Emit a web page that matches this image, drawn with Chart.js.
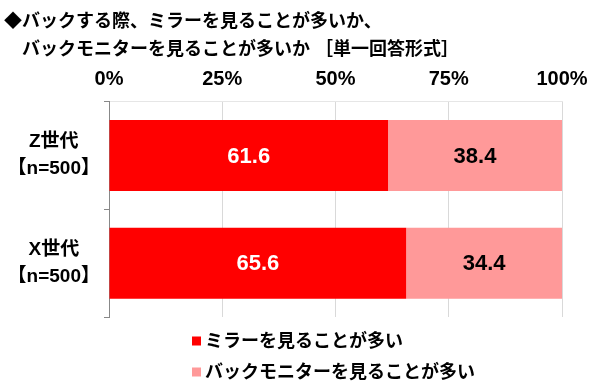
<!DOCTYPE html>
<html>
<head>
<meta charset="utf-8">
<script src="https://cdn.jsdelivr.net/npm/chart.js@4"></script>
<style>
  body { margin: 0; background: #fff; }
  #wrap { width: 600px; height: 388px; }
</style>
</head>
<body>
<div id="wrap"><canvas id="chart" width="600" height="388"></canvas></div>
<script>
// chart data
const titleLines = ['◆バックする際、ミラーを見ることが多いか、', '　バックモニターを見ることが多いか ［単一回答形式］'];
const categories = [['Z世代', '【n=500】'], ['X世代', '【n=500】']];
const seriesNames = ['ミラーを見ることが多い', 'バックモニターを見ることが多い'];
const mirrorValues = [61.6, 65.6];
const monitorValues = [38.4, 34.4];
const xTicks = [0, 25, 50, 75, 100];

const FONT = "'Liberation Sans', 'Noto Sans CJK JP', sans-serif";

// value labels inside the bars
const valueLabels = {
    id: 'valueLabels',
    afterDatasetsDraw(chart) {
        const ctx = chart.ctx;
        ctx.save();
        ctx.font = 'bold 22px ' + FONT;
        ctx.textAlign = 'center';
        ctx.textBaseline = 'middle';
        chart.data.datasets.forEach((ds, di) => {
            chart.getDatasetMeta(di).data.forEach((bar, i) => {
                const p = bar.getProps(['x', 'y', 'base'], true);
                ctx.fillStyle = di === 0 ? '#ffffff' : '#000000';
                ctx.fillText(ds.data[i].toFixed(1), (p.x + p.base) / 2, p.y + 1);
            });
        });
        ctx.restore();
    }
};

// vertical legend under the chart
const stackedLegend = {
    id: 'stackedLegend',
    afterDraw(chart) {
        const ctx = chart.ctx;
        ctx.save();
        ctx.font = 'bold 18px ' + FONT;
        ctx.textBaseline = 'middle';
        chart.data.datasets.forEach((ds, i) => {
            const y = 341 + i * 31;
            ctx.fillStyle = ds.backgroundColor;
            ctx.fillRect(192, y - 4.5, 9, 9);
            ctx.fillStyle = '#000';
            ctx.fillText(ds.label, 205, y + 1);
        });
        ctx.restore();
    }
};

new Chart(document.getElementById('chart'), {
    type: 'bar',
    data: {
        labels: categories,
        datasets: [
            { label: seriesNames[0], data: mirrorValues, backgroundColor: '#ff0000' },
            { label: seriesNames[1], data: monitorValues, backgroundColor: '#ff9999' }
        ]
    },
    options: {
        indexAxis: 'y',
        responsive: false,
        animation: false,
        layout: { padding: { left: 4, right: 38, bottom: 71, top: 0 } },
        datasets: { bar: { barPercentage: 0.66, categoryPercentage: 1 } },
        scales: {
            x: {
                position: 'top',
                stacked: true,
                min: 0,
                max: 100,
                afterBuildTicks: (axis) => { axis.ticks = xTicks.map(v => ({ value: v })); },
                afterFit: (axis) => { axis.height = 32; },
                ticks: {
                    callback: v => v + '%',
                    color: '#000',
                    padding: 10,
                    font: { family: FONT, size: 20, weight: 'bold' }
                },
                grid: { color: '#d9d9d9', drawTicks: false },
                border: { display: true, color: '#e6e6e6' }
            },
            y: {
                stacked: true,
                afterFit: (axis) => { axis.width = 105; },
                ticks: {
                    color: '#000',
                    crossAlign: 'center',
                    padding: 4,
                    font: { family: FONT, size: 19, weight: 'bold', lineHeight: 1.42 }
                },
                grid: { drawOnChartArea: false, drawTicks: true, tickLength: 5, color: '#888', offset: true },
                border: { display: true, color: '#888' }
            }
        },
        plugins: {
            title: {
                display: true,
                text: titleLines,
                align: 'start',
                color: '#000',
                font: { family: FONT, size: 18, weight: 'bold', lineHeight: 1.55 },
                padding: { top: 8, bottom: 6 }
            },
            legend: { display: false },
            tooltip: { enabled: false }
        }
    },
    plugins: [valueLabels, stackedLegend]
});
</script>
</body>
</html>
